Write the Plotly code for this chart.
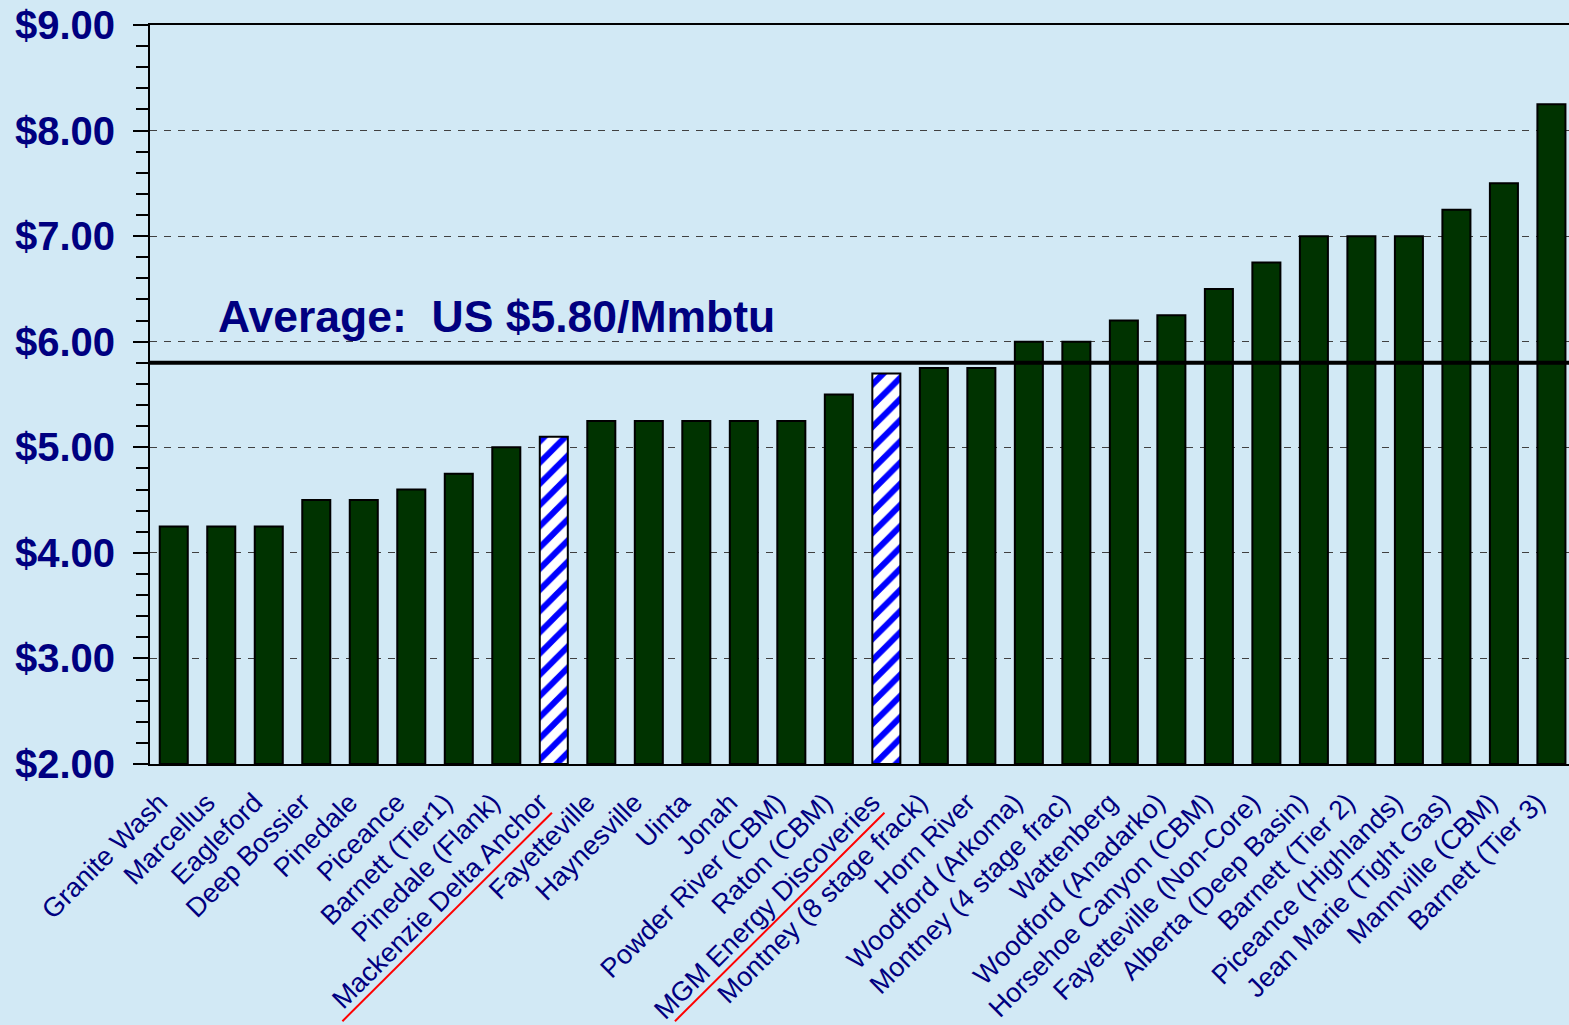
import plotly.graph_objects as go

CATEGORIES = [
    "Granite Wash", "Marcellus", "Eagleford", "Deep Bossier", "Pinedale", "Piceance",
    "Barnett (Tier1)", "Pinedale (Flank)", "Mackenzie Delta Anchor", "Fayetteville",
    "Haynesville", "Uinta", "Jonah", "Powder River (CBM)", "Raton (CBM)",
    "MGM Energy Discoveries", "Montney (8 stage frack)", "Horn River", "Woodford (Arkoma)",
    "Montney (4 stage frac)", "Wattenberg", "Woodford (Anadarko)", "Horsehoe Canyon (CBM)",
    "Fayetteville (Non-Core)", "Alberta (Deep Basin)", "Barnett (Tier 2)",
    "Piceance (Highlands)", "Jean Marie (Tight Gas)", "Mannville (CBM)", "Barnett (Tier 3)",
]
COSTS = [
    4.25, 4.25, 4.25, 4.50, 4.50, 4.60, 4.75, 5.00, 5.10, 5.25,
    5.25, 5.25, 5.25, 5.25, 5.50, 5.70, 5.75, 5.75, 6.00, 6.00,
    6.20, 6.25, 6.50, 6.75, 7.00, 7.00, 7.00, 7.25, 7.50, 8.25,
]
HIGHLIGHTED = ["Mackenzie Delta Anchor", "MGM Energy Discoveries"]
AVERAGE = 5.80
Y_TICKS = [2, 3, 4, 5, 6, 7, 8, 9]
Y_TICK_LABELS = ["$%.2f" % v for v in Y_TICKS]

NAVY = "#000080"
GREEN = "#003300"
BG = "#D2E9F5"
FONT = "Liberation Sans, Arial, sans-serif"

n = len(CATEGORIES)
x_idx = list(range(n))
is_hl = [c in HIGHLIGHTED for c in CATEGORIES]
x_norm = [i for i in x_idx if not is_hl[i]]
y_norm = [COSTS[i] - 2 for i in x_norm]
x_hl = [i for i in x_idx if is_hl[i]]
y_hl = [COSTS[i] - 2 for i in x_hl]

fig = go.Figure()
fig.add_trace(go.Bar(
    x=x_norm, y=y_norm, base=2,
    marker=dict(color=GREEN, line=dict(color="black", width=2)),
    width=0.59, hoverinfo="skip",
))
fig.add_trace(go.Bar(
    x=x_hl, y=y_hl, base=2,
    marker=dict(
        color="white",
        line=dict(color="black", width=2),
        pattern=dict(shape="/", fgcolor="#0000FF", bgcolor="white", fgopacity=1,
                     fillmode="replace", size=15, solidity=0.4),
    ),
    width=0.59, hoverinfo="skip",
))

# average line
fig.add_shape(type="line", xref="paper", yref="y", x0=0, x1=1, y0=AVERAGE, y1=AVERAGE,
              line=dict(color="black", width=4), layer="above")

# red underlines under highlighted labels
for name in HIGHLIGHTED:
    i = CATEGORIES.index(name)
    fig.add_shape(type="line", xref="x", yref="paper",
                  x0=i - 4.45, x1=i - 0.04, y0=-0.348, y1=-0.066,
                  line=dict(color="#FF0000", width=2))

fig.add_annotation(
    text="Average:  US $5.80/Mmbtu", xref="paper", yref="y",
    x=0.0465, y=AVERAGE + 0.44, xanchor="left", yanchor="middle",
    showarrow=False, font=dict(family=FONT, size=44.5, color=NAVY, weight="bold"),
)

fig.update_layout(
    width=1569, height=1025,
    margin=dict(l=150, r=0, t=25, b=261),
    paper_bgcolor=BG, plot_bgcolor=BG,
    showlegend=False, barmode="overlay",
    font=dict(family=FONT, color=NAVY),
)
fig.update_xaxes(
    range=[-0.5, 29.37],
    tickmode="array", tickvals=[i - 0.3 for i in x_idx], ticktext=CATEGORIES,
    tickangle=-45, tickfont=dict(size=27, color=NAVY, family=FONT),
    showgrid=False, showline=True, linecolor="black", linewidth=2, mirror=True,
    ticks="", zeroline=False, ticklabelstandoff=10,
)
fig.update_yaxes(
    range=[2, 9],
    tickmode="array", tickvals=Y_TICKS, ticktext=Y_TICK_LABELS,
    tickfont=dict(size=40, color=NAVY, family=FONT, weight="bold"),
    showgrid=True, gridcolor="#404040", gridwidth=1, griddash="7px,7px",
    showline=True, linecolor="black", linewidth=2,
    ticks="outside", ticklen=15, tickwidth=2, tickcolor="black",
    minor=dict(dtick=0.2, ticks="outside", ticklen=12, tickwidth=2, tickcolor="black", showgrid=False),
    zeroline=False, ticklabelstandoff=10,
)

fig.write_html(
    "out.html",
    config={"displayModeBar": False},
    post_script="document.body.style.margin='0';document.body.style.overflow='hidden';",
)
